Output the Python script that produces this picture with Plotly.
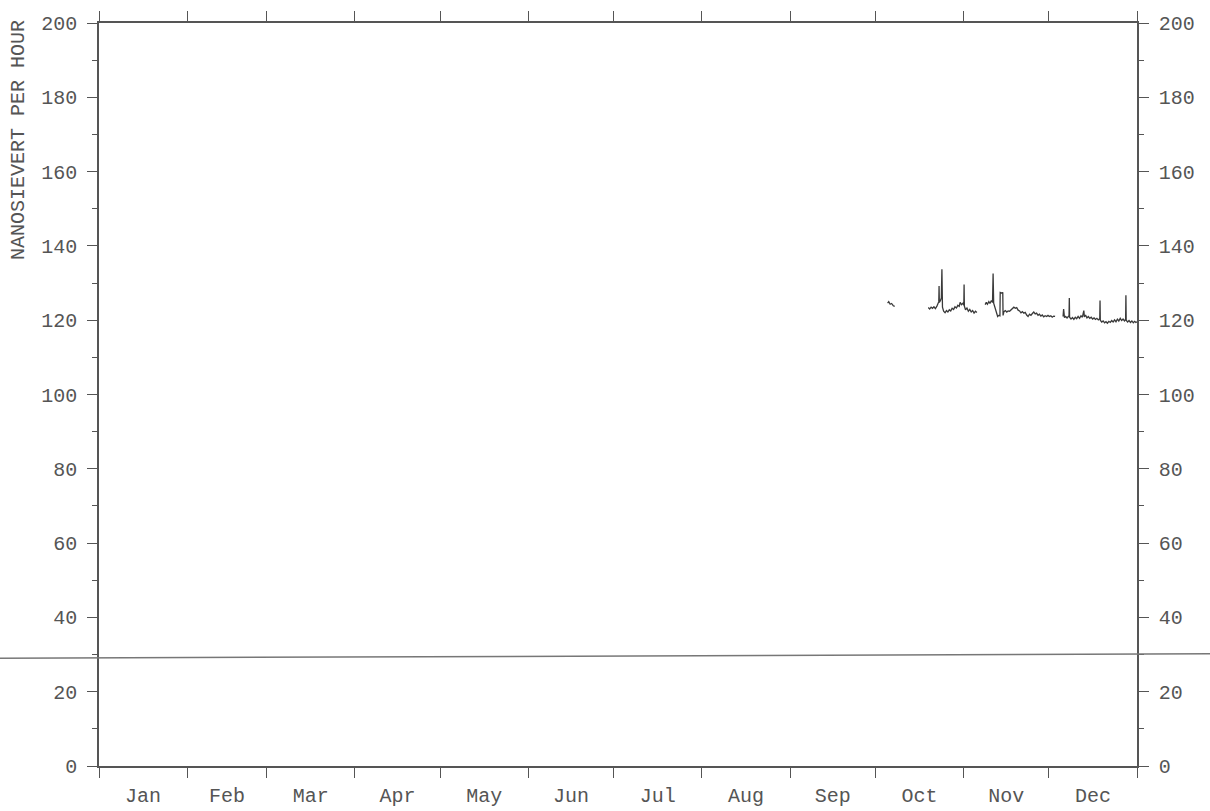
import pandas as pd
import plotly.graph_objects as go

# Ambient gamma dose rate (nSv/h), time in fractional day of year (2001)
seg1_day = [277.3, 277.7, 278.2, 278.7, 279.3, 279.8]
seg1_val = [124.6, 125.0, 124.3, 124.5, 123.9, 123.7]

seg2_day = [291.6, 292.1, 292.6, 293.1, 293.6, 294.1, 294.6, 295.0, 295.3, 295.4,
            295.5, 295.9, 296.2, 296.4, 296.6, 297.0, 297.5, 298.0, 298.5, 299.0,
            299.5, 300.0, 300.5, 301.0, 301.5, 302.0, 302.5, 302.8, 303.3, 303.8,
            304.1, 304.2, 304.3, 304.7, 305.2, 305.7, 306.2, 306.7, 307.2, 307.7,
            308.2, 308.7]
seg2_val = [123.4, 123.0, 123.5, 123.2, 123.6, 123.1, 123.7, 124.3, 125.0, 129.2,
            124.8, 125.3, 126.0, 133.7, 123.5, 122.4, 122.0, 122.6, 122.2, 122.8,
            122.5, 123.2, 122.9, 123.6, 123.3, 124.0, 123.7, 124.8, 124.2, 124.6,
            124.0, 129.6, 123.8, 122.8, 123.3, 122.4, 122.9, 122.2, 122.6, 121.9,
            122.4, 122.1]

seg3_day = [311.6, 312.0, 312.4, 312.9, 313.3, 313.8, 314.2, 314.4, 314.6, 315.0,
            315.5, 316.0, 316.4, 316.8, 316.9, 317.6, 317.8, 317.9, 318.2, 318.7,
            319.2, 319.7, 320.2, 320.7, 321.2, 321.7, 322.2, 322.7, 323.2, 323.7,
            324.2, 324.7, 325.2, 325.7, 326.2, 326.7, 327.2, 327.7, 328.2, 328.7,
            329.2, 329.7, 330.2, 330.7, 331.2, 331.7, 332.2, 332.7, 333.2, 333.7,
            334.2, 334.7, 335.2, 335.7, 336.2]
seg3_val = [124.2, 124.8, 124.3, 125.0, 124.5, 125.3, 124.8, 132.6, 124.6, 123.5,
            121.8, 121.0, 121.3, 121.2, 127.5, 127.3, 127.5, 121.3, 122.3, 122.6,
            122.2, 122.5, 122.4, 122.8, 123.2, 123.5, 123.2, 123.4, 122.7, 122.5,
            122.0, 122.3, 121.9, 122.1, 121.4, 121.0, 121.6, 121.3, 121.8, 122.2,
            121.7, 121.9, 121.3, 121.6, 121.1, 121.4, 120.9, 121.2, 121.0, 121.3,
            121.0, 121.2, 120.8, 121.1, 121.0]

seg4_day = [339.0, 339.2, 339.5, 339.9, 340.4, 340.9, 341.1, 341.2, 341.3, 341.8,
            342.3, 342.8, 343.3, 343.8, 344.3, 344.8, 345.3, 345.8, 346.3, 346.5,
            346.9, 347.4, 347.9, 348.4, 348.9, 349.4, 349.9, 350.4, 350.9, 351.4,
            351.9, 352.0, 352.1, 352.6, 353.1, 353.6, 354.1, 354.6, 355.1, 355.6,
            356.1, 356.6, 357.1, 357.6, 358.1, 358.6, 359.1, 359.6, 360.1, 360.6,
            361.0, 361.1, 361.2, 361.7, 362.2, 362.7, 363.2, 363.7, 364.2, 364.6,
            365.0]
seg4_val = [121.0, 123.0, 120.7, 121.0, 120.6, 120.9, 121.2, 126.0, 120.8, 120.3,
            120.7, 120.2, 120.8, 120.4, 121.0, 120.5, 121.2, 120.8, 122.6, 120.9,
            121.4, 120.6, 121.0, 120.5, 120.8, 120.3, 120.6, 120.2, 120.5, 120.1,
            120.4, 125.3, 120.0, 119.5, 119.8, 119.3, 119.6, 119.2, 119.7, 119.4,
            119.9, 119.5, 120.1, 119.6, 120.3, 119.8, 120.5, 119.9, 120.3, 119.8,
            120.2, 126.7, 120.0, 119.5, 119.9, 119.4, 119.8, 119.3, 119.7, 119.4,
            119.6]

threshold_left = 29.0
threshold_right = 30.2

year_start = pd.Timestamp("2001-01-01")
year_end = pd.Timestamp("2002-01-01")

days, vals = [], []
for d, v in [(seg1_day, seg1_val), (seg2_day, seg2_val),
             (seg3_day, seg3_val), (seg4_day, seg4_val)]:
    days += d + [None]
    vals += v + [None]

times = [None if d is None else year_start + pd.to_timedelta(d, unit="D") for d in days]

FONT = "Liberation Mono, Courier New, monospace"
INK = "#555555"
AXIS = "#555555"

fig = go.Figure()
fig.add_trace(go.Scatter(
    x=times, y=vals, mode="lines",
    line=dict(color="#3a3a3a", width=1.3),
    connectgaps=False, showlegend=False,
))
# invisible trace to activate the right-hand axis
fig.add_trace(go.Scatter(x=[year_start], y=[None], yaxis="y2",
                         showlegend=False, hoverinfo="skip"))

yaxis_common = dict(
    range=[0, 200], dtick=20, tick0=0,
    ticks="outside", ticklen=10, tickwidth=1.3, tickcolor=AXIS,
    minor=dict(ticks="outside", ticklen=5, dtick=10, tick0=0,
               tickwidth=1.2, tickcolor=AXIS),
    showline=True, linecolor=AXIS, linewidth=1.5,
    showgrid=False, zeroline=False, automargin=False,
    tickfont=dict(family=FONT, size=20, color=INK),
    ticklabelstandoff=6,
)

fig.update_layout(
    width=1210, height=811,
    margin=dict(l=99, r=73, t=23, b=45),
    paper_bgcolor="white", plot_bgcolor="white",
    xaxis=dict(
        type="date", range=[year_start, year_end],
        dtick="M1", tick0="2001-01-01", tickformat="%b",
        ticklabelmode="period",
        ticks="outside", ticklen=10, tickwidth=1.3, tickcolor=AXIS,
        showline=True, linecolor=AXIS, linewidth=1.5, mirror="ticks",
        showgrid=False, zeroline=False, automargin=False,
        tickfont=dict(family=FONT, size=20, color=INK),
    ),
    yaxis=dict(side="left", **yaxis_common),
    yaxis2=dict(side="right", overlaying="y", **yaxis_common),
    annotations=[dict(
        text="NANOSIEVERT PER HOUR", textangle=-90,
        xref="paper", yref="paper", x=-0.078, y=0.8425,
        xanchor="center", yanchor="middle", showarrow=False,
        font=dict(family=FONT, size=20, color=INK),
    )],
    shapes=[dict(
        type="line", xref="paper", yref="y",
        x0=-99 / 1038, x1=(1210 - 99) / 1038,
        y0=threshold_left, y1=threshold_right,
        line=dict(color="#777777", width=1.5),
    )],
)

fig.write_html("out.html")
